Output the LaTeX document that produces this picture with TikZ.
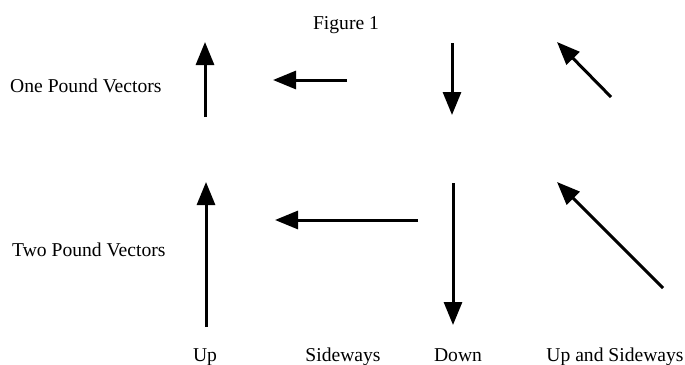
\documentclass[tikz,border=0pt]{standalone}
\usepackage{fontspec}
\setmainfont{Liberation Serif}
\usetikzlibrary{arrows.meta}
\tikzset{
  vec/.style={line width=3pt, -{Triangle[length=23pt,width=18pt]}},
  lbl/.style={inner sep=0pt, anchor=base, font=\fontsize{19.6}{22}\selectfont},
}
\begin{document}
\begin{tikzpicture}[x=1pt,y=-1pt]
\useasboundingbox (0,0) rectangle (685,364);
% labels
\node[lbl] (title) at (346,29) {Figure 1};
\node[lbl, anchor=base west] (one) at (10,92) {One Pound Vectors};
\node[lbl, anchor=base west] (two) at (12,256) {Two Pound Vectors};
\node[lbl] (lup) at (205,361) {Up};
\node[lbl] (lside) at (343,361) {Sideways};
\node[lbl] (ldown) at (458,361) {Down};
\node[lbl] (lus) at (615,361) {Up and Sideways};
% one pound vectors
\coordinate (u1a) at (205,117); \coordinate (u1b) at (205,42);
\coordinate (s1a) at (347,80);  \coordinate (s1b) at (273,80);
\coordinate (d1a) at (452,43);  \coordinate (d1b) at (452,115);
\coordinate (us1a) at (611,97); \coordinate (us1b) at (557,42);
% two pound vectors
\coordinate (u2a) at (206,327); \coordinate (u2b) at (206,182);
\coordinate (s2a) at (418,220); \coordinate (s2b) at (275,220);
\coordinate (d2a) at (453,183); \coordinate (d2b) at (453,325);
\coordinate (us2a) at (663,288); \coordinate (us2b) at (557,182);
\draw[vec] (u1a) -- (u1b);
\draw[vec] (s1a) -- (s1b);
\draw[vec] (d1a) -- (d1b);
\draw[vec] (us1a) -- (us1b);
\draw[vec] (u2a) -- (u2b);
\draw[vec] (s2a) -- (s2b);
\draw[vec] (d2a) -- (d2b);
\draw[vec] (us2a) -- (us2b);
\end{tikzpicture}
\end{document}
